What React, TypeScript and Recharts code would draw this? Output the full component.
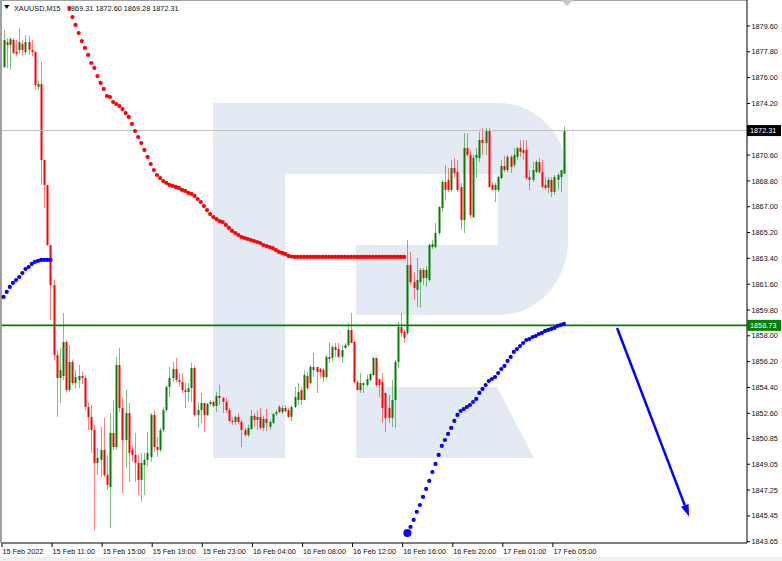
import React from "react";
import { ComposedChart, Bar, Line, XAxis, YAxis, ReferenceLine } from "recharts";

// XAUUSD M15, 15 Feb 2022 07:00 .. 17 Feb 2022 ~07:45 (one value per bar)
const opens = [
  1876.74, 1878.48, 1878.27, 1878.62, 1877.79, 1877.93, 1878.34, 1877.79, 1878.48, 1877.93,
  1877.79, 1875.35, 1875.55, 1870.26, 1868.52, 1864.33, 1861.54, 1856.67, 1855.06, 1855.2,
  1857.57, 1854.22, 1856.18, 1854.71, 1854.92, 1855.2, 1855.06, 1853.04, 1852.35, 1851.44,
  1849.14, 1849.35, 1850.05, 1848.3, 1847.47, 1851.23, 1850.25, 1855.97, 1852.97, 1850.74,
  1852.62, 1850.05, 1849.7, 1849.14, 1847.96, 1849.0, 1849.35, 1849.56, 1852.49, 1850.25,
  1850.05, 1851.44, 1852.83, 1854.44, 1855.06, 1855.69, 1854.92, 1854.78, 1854.22, 1854.09,
  1854.36, 1855.76, 1852.49, 1852.83, 1853.32, 1852.49, 1853.25, 1853.39, 1853.11, 1853.81,
  1853.67, 1853.39, 1852.83, 1852.07, 1852.0, 1852.35, 1852.0, 1851.44, 1851.09, 1851.51,
  1852.42, 1852.14, 1852.35, 1851.58, 1852.21, 1851.65, 1851.93, 1852.56, 1853.04, 1852.69,
  1852.97, 1852.83, 1852.35, 1853.04, 1853.53, 1854.22, 1853.53, 1855.2, 1854.71, 1855.62,
  1855.83, 1855.69, 1855.62, 1855.13, 1856.53, 1856.46, 1857.22, 1857.08, 1856.53, 1857.15,
  1857.36, 1858.41, 1857.57, 1854.78, 1854.22, 1854.57, 1854.57, 1854.92, 1855.27, 1856.46,
  1854.99, 1854.78, 1854.02, 1852.97, 1852.28, 1853.53, 1856.18, 1858.62, 1858.27, 1858.2,
  1862.94, 1861.75, 1861.2, 1861.75, 1862.59, 1862.03, 1861.89, 1864.19, 1864.19, 1865.17,
  1866.91, 1868.73, 1868.87, 1868.17, 1869.7, 1869.42, 1868.38, 1866.07, 1871.09, 1870.61,
  1866.28, 1870.4, 1870.4, 1871.65, 1871.44, 1872.35, 1868.52, 1868.17, 1868.17, 1869.0,
  1869.84, 1869.56, 1870.47, 1869.91, 1870.47, 1871.09, 1870.96, 1870.96, 1869.07, 1868.87,
  1869.42, 1870.12, 1869.42, 1868.52, 1868.31, 1868.87, 1868.03, 1868.87, 1869.07, 1869.31,
];
const highs = [
  1879.32, 1878.76, 1878.83, 1878.76, 1878.62, 1879.46, 1878.62, 1878.97, 1878.9, 1878.62,
  1877.86, 1875.76, 1877.09, 1870.26, 1868.52, 1864.33, 1861.89, 1857.01, 1857.15, 1859.59,
  1857.71, 1857.36, 1856.32, 1855.62, 1855.97, 1855.48, 1855.27, 1853.32, 1853.18, 1851.79,
  1850.18, 1851.65, 1852.28, 1849.7, 1852.62, 1853.53, 1856.53, 1857.15, 1853.67, 1854.22,
  1853.32, 1850.39, 1851.23, 1849.7, 1849.84, 1849.84, 1851.3, 1852.62, 1852.83, 1850.95,
  1851.58, 1853.04, 1854.57, 1855.83, 1856.18, 1856.46, 1855.41, 1855.41, 1854.71, 1854.71,
  1856.11, 1855.9, 1853.39, 1854.02, 1853.32, 1853.32, 1853.53, 1853.46, 1854.09, 1854.57,
  1853.74, 1853.67, 1852.97, 1852.28, 1852.42, 1852.62, 1852.14, 1851.58, 1851.79, 1852.83,
  1852.62, 1852.83, 1852.97, 1852.42, 1852.9, 1852.14, 1852.62, 1852.83, 1853.18, 1853.18,
  1853.18, 1852.97, 1853.18, 1854.44, 1854.71, 1854.44, 1855.62, 1855.48, 1855.97, 1856.81,
  1855.83, 1855.76, 1855.76, 1856.67, 1857.57, 1857.36, 1857.5, 1857.5, 1857.36, 1857.5,
  1858.9, 1859.59, 1857.71, 1854.92, 1855.41, 1854.71, 1855.27, 1855.41, 1856.53, 1856.46,
  1854.99, 1855.41, 1854.02, 1853.88, 1854.92, 1856.32, 1858.97, 1859.59, 1858.41, 1864.68,
  1863.85, 1862.45, 1863.43, 1862.73, 1862.73, 1862.87, 1864.47, 1864.68, 1865.87, 1867.05,
  1868.87, 1869.91, 1869.7, 1870.26, 1870.4, 1870.26, 1868.66, 1872.14, 1872.14, 1870.96,
  1870.61, 1871.09, 1872.21, 1872.49, 1872.49, 1872.49, 1868.73, 1868.66, 1869.14, 1870.26,
  1870.54, 1870.61, 1870.61, 1871.09, 1871.16, 1871.65, 1871.65, 1871.65, 1869.56, 1870.12,
  1870.26, 1870.4, 1870.26, 1869.07, 1869.07, 1869.07, 1869.21, 1869.35, 1869.56, 1872.6,
];
const lows = [
  1876.67, 1876.67, 1876.53, 1877.65, 1877.51, 1877.65, 1877.58, 1877.58, 1877.58, 1877.51,
  1875.14, 1875.14, 1868.52, 1866.91, 1864.26, 1859.11, 1856.32, 1852.35, 1853.32, 1854.92,
  1854.09, 1854.09, 1854.57, 1854.36, 1854.36, 1854.64, 1852.83, 1851.44, 1849.84, 1844.47,
  1848.3, 1848.16, 1848.16, 1847.26, 1844.61, 1850.05, 1850.05, 1852.69, 1847.05, 1848.79,
  1847.82, 1849.21, 1847.82, 1846.91, 1846.42, 1846.91, 1848.86, 1849.21, 1849.91, 1849.56,
  1849.91, 1851.3, 1852.69, 1853.74, 1854.78, 1854.78, 1854.44, 1854.02, 1852.97, 1853.39,
  1853.39, 1852.35, 1851.58, 1851.93, 1851.3, 1852.42, 1853.11, 1853.04, 1852.69, 1853.18,
  1852.62, 1852.62, 1852.0, 1851.79, 1851.79, 1851.86, 1850.25, 1850.95, 1850.95, 1851.44,
  1851.65, 1851.44, 1851.44, 1851.37, 1851.37, 1851.44, 1851.86, 1852.42, 1852.62, 1852.56,
  1852.69, 1852.28, 1852.07, 1852.97, 1853.18, 1853.18, 1853.53, 1854.22, 1854.64, 1855.13,
  1854.02, 1855.06, 1854.78, 1854.99, 1856.11, 1856.18, 1856.53, 1856.46, 1856.11, 1857.08,
  1857.22, 1857.5, 1854.71, 1854.22, 1854.02, 1854.02, 1854.44, 1854.78, 1855.2, 1854.44,
  1853.74, 1851.93, 1851.3, 1851.93, 1851.65, 1851.58, 1855.76, 1857.92, 1857.5, 1858.06,
  1861.54, 1860.5, 1860.01, 1859.94, 1861.54, 1861.41, 1861.75, 1864.05, 1864.12, 1865.03,
  1866.63, 1867.47, 1868.03, 1868.03, 1869.0, 1868.03, 1865.38, 1865.17, 1870.47, 1866.21,
  1866.21, 1869.0, 1870.12, 1870.61, 1870.61, 1868.31, 1868.17, 1867.33, 1868.03, 1868.93,
  1869.42, 1869.42, 1869.35, 1869.77, 1870.26, 1870.47, 1870.26, 1868.87, 1868.17, 1868.73,
  1869.35, 1869.28, 1868.31, 1868.17, 1867.96, 1867.68, 1867.82, 1868.17, 1868.03, 1869.28,
];
const closes = [
  1878.62, 1878.27, 1878.69, 1877.72, 1877.65, 1878.48, 1877.93, 1878.48, 1877.93, 1877.79,
  1875.48, 1875.55, 1870.26, 1868.52, 1864.33, 1861.54, 1856.67, 1855.06, 1855.62, 1857.57,
  1854.22, 1856.18, 1854.71, 1855.13, 1855.2, 1855.06, 1853.04, 1852.35, 1851.44, 1849.14,
  1849.49, 1850.05, 1848.3, 1847.61, 1851.23, 1850.25, 1855.97, 1852.97, 1850.74, 1852.62,
  1849.84, 1849.7, 1849.14, 1847.96, 1849.14, 1849.35, 1849.84, 1852.49, 1850.25, 1850.05,
  1851.44, 1852.83, 1854.44, 1855.06, 1855.69, 1854.92, 1854.78, 1854.22, 1854.09, 1854.36,
  1855.76, 1852.49, 1852.83, 1853.32, 1852.49, 1853.25, 1853.39, 1853.11, 1853.81, 1853.67,
  1853.39, 1852.83, 1852.07, 1852.0, 1852.35, 1852.0, 1851.44, 1851.09, 1851.58, 1852.42,
  1852.14, 1852.35, 1851.58, 1852.21, 1851.93, 1852.0, 1852.56, 1852.69, 1852.69, 1852.97,
  1852.76, 1852.35, 1853.04, 1853.74, 1854.09, 1853.53, 1855.27, 1854.36, 1855.83, 1855.83,
  1855.48, 1855.48, 1855.13, 1856.53, 1856.39, 1857.22, 1857.01, 1856.53, 1857.01, 1857.36,
  1858.41, 1857.5, 1854.78, 1854.22, 1854.71, 1854.71, 1854.99, 1855.34, 1856.46, 1854.57,
  1854.57, 1852.97, 1852.28, 1852.28, 1853.53, 1856.18, 1858.62, 1858.2, 1857.85, 1862.94,
  1861.75, 1861.34, 1861.89, 1862.59, 1862.03, 1862.59, 1864.33, 1864.4, 1865.17, 1866.98,
  1868.73, 1868.17, 1868.17, 1869.7, 1869.35, 1868.17, 1866.07, 1871.09, 1870.61, 1866.42,
  1870.4, 1870.61, 1871.65, 1871.44, 1872.35, 1868.38, 1868.17, 1868.52, 1869.07, 1869.84,
  1869.56, 1870.47, 1869.77, 1870.61, 1871.09, 1870.82, 1870.75, 1869.0, 1868.87, 1869.56,
  1870.12, 1869.42, 1868.38, 1868.31, 1868.87, 1868.03, 1869.07, 1869.21, 1869.56, 1872.31,
];

// dotted indicator (red above price, blue below)
const RED_START = 21;
const redDots = [
  1880.85, 1880.22, 1879.67, 1879.11, 1878.55, 1878.07, 1877.58, 1877.02, 1876.67, 1876.11,
  1875.63, 1875.21, 1874.72, 1874.65, 1874.3, 1874.16, 1874.02, 1873.81, 1873.53, 1873.26,
  1872.77, 1872.28, 1871.86, 1871.44, 1870.96, 1870.47, 1869.98, 1869.56, 1869.21, 1869.0,
  1868.79, 1868.66, 1868.52, 1868.45, 1868.38, 1868.31, 1868.17, 1868.1, 1867.96, 1867.89,
  1867.75, 1867.54, 1867.33, 1867.05, 1866.77, 1866.49, 1866.28, 1866.14, 1866.0, 1865.93,
  1865.73, 1865.52, 1865.31, 1865.17, 1865.03, 1864.89, 1864.82, 1864.75, 1864.68, 1864.61,
  1864.54, 1864.47, 1864.33, 1864.26, 1864.19, 1864.12, 1863.98, 1863.85, 1863.78, 1863.71,
  1863.57, 1863.53, 1863.5, 1863.5, 1863.5, 1863.5, 1863.5, 1863.5, 1863.5, 1863.5,
  1863.5, 1863.5, 1863.5, 1863.5, 1863.5, 1863.5, 1863.5, 1863.5, 1863.5, 1863.5,
  1863.5, 1863.5, 1863.5, 1863.5, 1863.5, 1863.5, 1863.5, 1863.5, 1863.5, 1863.5,
  1863.5, 1863.5, 1863.5, 1863.5, 1863.5, 1863.5, 1863.5, 1863.5,
];
const BLUE1_START = 0;
const blueDots1 = [
  1860.71, 1861.06, 1861.41, 1861.69, 1861.89, 1862.1, 1862.38, 1862.66, 1862.8, 1863.01,
  1863.15, 1863.22, 1863.29, 1863.29, 1863.29, 1863.29,
];
const BLUE2_START = 129;
const blueDots2 = [
  1844.26, 1844.68, 1845.17, 1845.73, 1846.21, 1846.77, 1847.33, 1847.89, 1848.51, 1849.07,
  1849.7, 1850.33, 1850.74, 1851.16, 1851.58, 1852.07, 1852.49, 1852.76, 1852.9, 1853.04,
  1853.18, 1853.39, 1853.6, 1854.02, 1854.3, 1854.57, 1854.85, 1854.99, 1855.13, 1855.41,
  1855.69, 1855.9, 1856.25, 1856.53, 1856.88, 1857.08, 1857.29, 1857.5, 1857.71, 1857.78,
  1857.92, 1857.99, 1858.13, 1858.2, 1858.34, 1858.41, 1858.48, 1858.55, 1858.69, 1858.76,
  1858.83,
];

const SLOTS = 238; // time slots on the axis, the rest is empty future
const xTickIndex = [0, 16, 32, 48, 64, 80, 96, 112, 128, 144, 160, 176];
const xTickLabels = [
  "15 Feb 2022", "15 Feb 11:00", "15 Feb 15:00", "15 Feb 19:00", "15 Feb 23:00", "16 Feb 04:00",
  "16 Feb 08:00", "16 Feb 12:00", "16 Feb 16:00", "16 Feb 20:00", "17 Feb 01:00", "17 Feb 05:00",
];
const yTicks = [
  1879.6, 1877.8, 1876.0, 1874.2, 1870.6, 1868.8, 1867.0, 1865.2, 1863.4, 1861.6, 1859.8,
  1858.0, 1856.2, 1854.4, 1852.6, 1850.85, 1849.05, 1847.25, 1845.45, 1843.65,
];
const BID = 1872.31;
const LEVEL = 1858.73;
const arrowFrom = { x: 196, y: 1858.55 };
const arrowTo = { x: 219, y: 1845.4 };

const GREEN = "#008000";
const RED = "#ff0000";
const BLUE = "#0000ff";
const FONT = '"Liberation Sans", Arial, sans-serif';
const FS = 7.3;

const rows = Array.from({ length: SLOTS }, (_, i) => {
  const has = i < closes.length;
  const r = i - RED_START;
  const b1 = i - BLUE1_START;
  const b2 = i - BLUE2_START;
  return {
    i,
    open: has ? opens[i] : null,
    high: has ? highs[i] : null,
    low: has ? lows[i] : null,
    close: has ? closes[i] : null,
    range: has ? [lows[i], highs[i]] : null,
    red: r >= 0 && r < redDots.length ? redDots[r] : null,
    blue:
      b1 >= 0 && b1 < blueDots1.length
        ? blueDots1[b1]
        : b2 >= 0 && b2 < blueDots2.length
        ? blueDots2[b2]
        : null,
  };
});

const Candle = (props: any) => {
  const { x, y, width, height, payload } = props;
  if (!payload || payload.open == null) return <g />;
  const { open, close, high, low } = payload;
  const span = high - low;
  const ratio = span > 0 ? height / span : 0;
  const cx = Math.round(x + width / 2) + 0.5;
  const top = y + (high - Math.max(open, close)) * ratio;
  const bodyH = Math.max(Math.abs(open - close) * ratio, 1);
  const color = close >= open ? GREEN : RED;
  return (
    <g>
      <line x1={cx} x2={cx} y1={y} y2={y + Math.max(height, 1)} stroke={color} strokeOpacity={0.5} strokeWidth={1} />
      <rect x={cx - 1} y={top} width={2} height={bodyH} fill={color} />
    </g>
  );
};

const makeDot = (color: string) => (props: any) => {
  const { cx, cy, index, value } = props;
  if (value == null || cy == null || isNaN(cy)) return <g key={`d${index}`} />;
  const big = color === BLUE && index === BLUE2_START;
  return <circle key={`d${index}`} cx={cx} cy={cy} r={big ? 4 : 2.1} fill={color} />;
};

const XTick = (props: any) => {
  const { x, y, payload } = props;
  const k = xTickIndex.indexOf(payload.value);
  const tx = x - 1.6;
  return (
    <g>
      <line x1={tx} x2={tx} y1={y} y2={y + 4} stroke="#000" />
      <text x={tx + 0.5} y={y + 11} fontSize={FS} fontFamily={FONT} fill="#111" textAnchor="start">
        {k >= 0 ? xTickLabels[k] : ""}
      </text>
    </g>
  );
};

const YTick = (props: any) => {
  const { x, y, payload } = props;
  const v = payload.value;
  if (v === BID || v === LEVEL) {
    return (
      <g>
        <rect x={x} y={y - 5.5} width={34} height={11} fill={v === BID ? "#000" : GREEN} />
        <text x={x + 3} y={y + 2.6} fontSize={FS} fontFamily={FONT} fill="#fff">
          {v.toFixed(2)}
        </text>
      </g>
    );
  }
  return (
    <g>
      <line x1={x} x2={x + 3} y1={y} y2={y} stroke="#000" />
      <text x={x + 4.5} y={y + 2.6} fontSize={FS} fontFamily={FONT} fill="#111">
        {v.toFixed(2)}
      </text>
    </g>
  );
};

const Arrow = (props: any) => {
  const { x1, y1, x2, y2 } = props;
  const a = Math.atan2(y2 - y1, x2 - x1);
  const len = 12;
  const half = 4;
  const bx = x2 - len * Math.cos(a);
  const by = y2 - len * Math.sin(a);
  const px = -Math.sin(a) * half;
  const py = Math.cos(a) * half;
  return (
    <g>
      <line x1={x1} y1={y1} x2={bx} y2={by} stroke={BLUE} strokeWidth={2.5} />
      <polygon points={`${x2},${y2} ${bx + px},${by + py} ${bx - px},${by - py}`} fill={BLUE} />
    </g>
  );
};

export default function App() {
  const W = 782;
  const H = 561;
  return (
    <div style={{ position: "absolute", left: 0, top: 0, width: W, height: H, background: "#fff" }}>
      <svg width={W} height={H} style={{ position: "absolute", left: 0, top: 0 }}>
        {/* watermark logo */}
        <path
          d="M213,103 L500,103 A68,75 0 0 1 568,178 L568,240 A68,75 0 0 1 500,315 L356,315 L356,245 L498,245 L498,174 L285,174 L285,458 L213,458 Z"
          fill="#e4eaf3"
        />
        <path d="M356,387 L497,387 L534,458 L356,458 Z" fill="#e4eaf3" />
        <line x1={0} x2={747} y1={0.5} y2={0.5} stroke="#a0a0a0" />
        <line x1={1} x2={1} y1={0} y2={543} stroke="#a0a0a0" strokeWidth={2} />
        <polygon points="561,0 573,0 567,6" fill="#c8c8c8" />
        <rect x={0} y={557} width={W} height={4} fill="#f0f0f0" />
        <polygon points="4,5 9.5,5 6.75,9" fill="#111" />
        <text x={14} y={11} fontSize={FS} fontFamily={FONT} fill="#111">
          XAUUSD,M15
        </text>
        <text x={67} y={11} fontSize={FS} fontFamily={FONT} fill="#111">
          1869.31 1872.60 1869.28 1872.31
        </text>
      </svg>
      <div style={{ position: "absolute", left: 0, top: 0 }}>
        <ComposedChart width={W} height={H} data={rows} margin={{ top: 0, right: 0, bottom: 0, left: 2 }}>
          <XAxis
            dataKey="i"
            type="category"
            ticks={xTickIndex}
            interval={0}
            height={18}
            tickSize={0}
            tickMargin={0}
            tickLine={false}
            axisLine={{ stroke: "#000" }}
            tick={<XTick />}
          />
          <YAxis
            orientation="right"
            width={35}
            domain={[1843.56, 1881.41]}
            allowDataOverflow
            ticks={[...yTicks, BID, LEVEL]}
            interval={0}
            tickSize={0}
            tickMargin={0}
            tickLine={false}
            axisLine={{ stroke: "#000" }}
            tick={<YTick />}
          />
          <ReferenceLine y={BID} stroke="#c0c0c0" strokeWidth={1} />
          <Bar dataKey="range" barSize={3} shape={<Candle />} isAnimationActive={false} />
          <ReferenceLine y={LEVEL} stroke={GREEN} strokeWidth={1.6} />
          <Line
            dataKey="red"
            stroke="none"
            dot={makeDot(RED)}
            activeDot={false}
            isAnimationActive={false}
            legendType="none"
          />
          <Line
            dataKey="blue"
            stroke="none"
            dot={makeDot(BLUE)}
            activeDot={false}
            isAnimationActive={false}
            legendType="none"
          />
          <ReferenceLine segment={[arrowFrom, arrowTo]} shape={Arrow} ifOverflow="visible" />
        </ComposedChart>
      </div>
    </div>
  );
}
